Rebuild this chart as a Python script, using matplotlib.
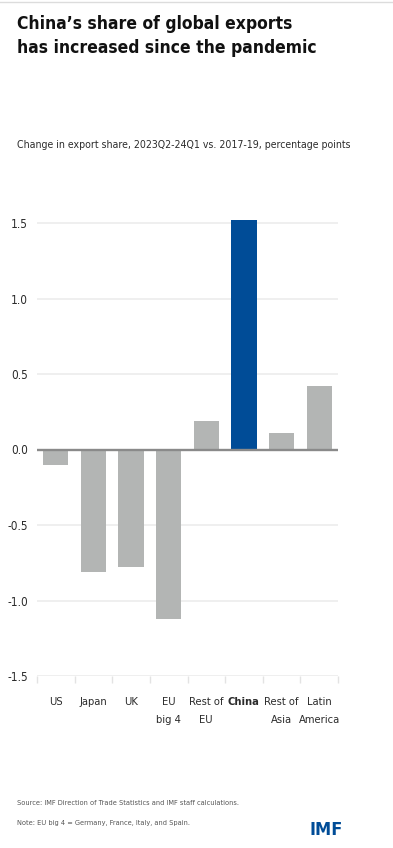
import numpy as np
import matplotlib
matplotlib.use("Agg")
import matplotlib.pyplot as plt

# Data
regions = ["US", "Japan", "UK", "EU\nbig 4", "Rest of\nEU", "China", "Rest of\nAsia", "Latin\nAmerica"]
change_pp = [-0.10, -0.81, -0.78, -1.12, 0.19, 1.52, 0.11, 0.42]
highlight = "China"

y_ticks = [-1.5, -1.0, -0.5, 0.0, 0.5, 1.0, 1.5]

grey = "#b3b5b4"
blue = "#004c97"
txt = "#2b2b2b"

# condensed face of DejaVu Sans, closest to the narrow house font
plt.rcParams["font.family"] = ["DejaVu Sans"]
plt.rcParams["font.stretch"] = "condensed"

W, H = 393, 848
fig = plt.figure(figsize=(W / 100, H / 100), dpi=100)

# axes in pixel coords: x 37..338, y(-1.5)=676, 151 px per unit
ymin, ymax = -1.5, 1.6
px_per = 151.0
ax_bottom = 676
ax_top = ax_bottom - (ymax - ymin) * px_per
ax = fig.add_axes([37 / W, (H - ax_bottom) / H, (338 - 37) / W, (ax_bottom - ax_top) / H])

x = np.arange(len(regions))
colors = [blue if r == highlight else grey for r in regions]
ax.bar(x, change_pp, width=0.67, color=colors, zorder=3)

ax.set_xlim(-0.5, len(regions) - 0.5)
ax.set_ylim(ymin, ymax)

for s in ax.spines.values():
    s.set_visible(False)

for v in y_ticks:
    if v == 0:
        ax.axhline(v, color="#8a8a8a", lw=1.7, zorder=4)
    else:
        ax.axhline(v, color="#ebebeb", lw=1.1, zorder=1)

ax.set_yticks(y_ticks)
ax.set_yticklabels([f"{v:.1f}" for v in y_ticks], fontsize=8.5, color=txt)
ax.tick_params(axis="y", length=0, pad=6.5)

# ticks on category boundaries, labels at centers
ax.set_xticks(np.arange(-0.5, len(regions), 1.0))
ax.set_xticklabels([])
ax.tick_params(axis="x", length=5, color="#e3e3e3", width=1)
for i, r in enumerate(regions):
    ax.text(i, ymin - 0.14, r, ha="center", va="top", fontsize=8, color=txt,
            fontweight="bold" if r == highlight else "normal", linespacing=1.95)

# top rule
fig.add_artist(plt.Line2D([0, 1], [1 - 1.5 / H, 1 - 1.5 / H], color="#dcdcdc", lw=1))

fig.text(17 / W, 1 - 29 / H, "China\u2019s share of global exports", fontsize=12.5,
         fontweight="bold", color="#111111", va="baseline", ha="left")
fig.text(17 / W, 1 - 53 / H, "has increased since the pandemic", fontsize=12.5,
         fontweight="bold", color="#111111", va="baseline", ha="left")
fig.text(17 / W, 1 - 148 / H,
         "Change in export share, 2023Q2-24Q1 vs. 2017-19, percentage points",
         fontsize=7.6, color=txt, va="baseline", ha="left")

fig.text(17 / W, 1 - 805 / H, "Source: IMF Direction of Trade Statistics and IMF staff calculations.",
         fontsize=5.3, color="#555555", va="baseline", ha="left")
fig.text(17 / W, 1 - 825 / H, "Note: EU big 4 = Germany, France, Italy, and Spain.",
         fontsize=5.3, color="#555555", va="baseline", ha="left")
fig.text(326 / W, 1 - 835 / H, "IMF", fontsize=13, fontweight="bold", color=blue,
         va="baseline", ha="center")

fig.savefig("out.png", dpi=100)
